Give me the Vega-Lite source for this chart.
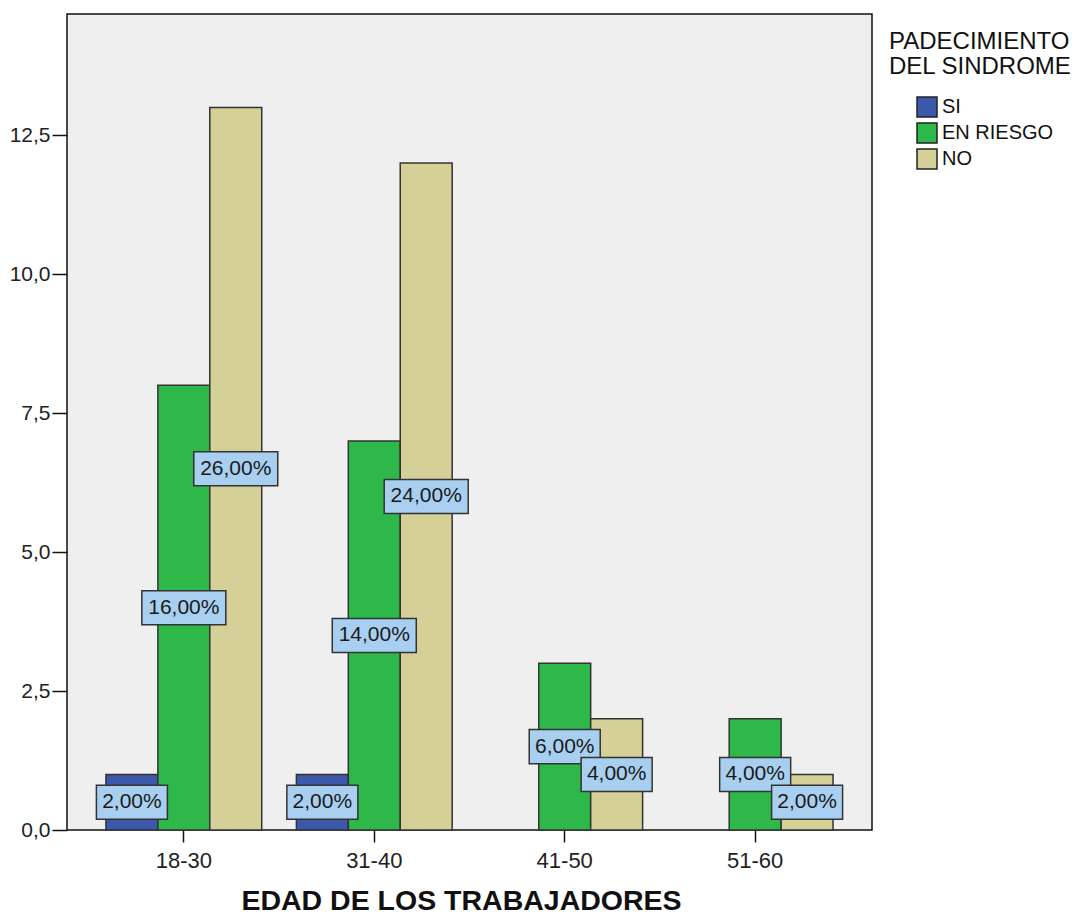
{
  "$schema": "https://vega.github.io/schema/vega-lite/v6.json",
  "autosize": {"type": "none"},
  "padding": {"left": 67, "top": 14, "right": 212, "bottom": 85},
  "width": 805,
  "height": 816,
  "background": "white",
  "config": {
    "font": "Liberation Sans",
    "view": {"fill": "#efefef", "stroke": "#111", "strokeWidth": 1.5},
    "axis": {
      "domainColor": "#111",
      "domainWidth": 1.5,
      "tickColor": "#111",
      "tickWidth": 1.5,
      "labelColor": "#222",
      "labelFont": "Liberation Sans",
      "labelFontSize": 21,
      "grid": false
    }
  },
  "data": {
    "values": [
      {"age": "18-30", "status": "SI", "count": 1, "label": "2,00%"},
      {"age": "18-30", "status": "EN RIESGO", "count": 8, "label": "16,00%"},
      {"age": "18-30", "status": "NO", "count": 13, "label": "26,00%"},
      {"age": "31-40", "status": "SI", "count": 1, "label": "2,00%"},
      {"age": "31-40", "status": "EN RIESGO", "count": 7, "label": "14,00%"},
      {"age": "31-40", "status": "NO", "count": 12, "label": "24,00%"},
      {"age": "41-50", "status": "EN RIESGO", "count": 3, "label": "6,00%"},
      {"age": "41-50", "status": "NO", "count": 2, "label": "4,00%"},
      {"age": "51-60", "status": "EN RIESGO", "count": 2, "label": "4,00%"},
      {"age": "51-60", "status": "NO", "count": 1, "label": "2,00%"}
    ]
  },
  "encoding": {
    "x": {
      "field": "age",
      "type": "nominal",
      "sort": ["18-30", "31-40", "41-50", "51-60"],
      "scale": {"paddingInner": 0.182, "paddingOuter": 0.2045},
      "axis": {
        "title": "EDAD DE LOS TRABAJADORES",
        "titleFont": "Liberation Sans",
        "titleFontSize": 28.5,
        "titleFontWeight": "bold",
        "titleColor": "#111",
        "titlePadding": 15,
        "titleX": 394,
        "labelAngle": 0,
        "labelFontSize": 22,
        "tickSize": 12,
        "labelPadding": 8,
        "domain": false
      }
    },
    "xOffset": {
      "field": "status",
      "type": "nominal",
      "scale": {"domain": ["SI", "EN RIESGO", "NO"], "paddingInner": 0, "paddingOuter": 0}
    }
  },
  "layer": [
    {
      "mark": {"type": "bar", "stroke": "#333", "strokeWidth": 1.5},
      "encoding": {
        "y": {
          "field": "count",
          "type": "quantitative",
          "scale": {"domain": [0, 14.68], "nice": false, "zero": true},
          "axis": {
            "title": null,
            "values": [0, 2.5, 5, 7.5, 10, 12.5],
            "labelExpr": "replace(format(datum.value, '.1f'), '.', ',')",
            "tickSize": 15,
            "labelPadding": 2,
            "domain": false
          }
        },
        "color": {
          "field": "status",
          "type": "nominal",
          "scale": {"domain": ["SI", "EN RIESGO", "NO"], "range": ["#3d57aa", "#2fb84a", "#d4d098"]},
          "legend": {
            "orient": "none",
            "legendX": 822,
            "legendY": 16,
            "padding": 0,
            "title": ["PADECIMIENTO", "DEL SINDROME"],
            "titleFont": "Liberation Sans",
            "titleFontSize": 24,
            "titleFontWeight": "normal",
            "titleColor": "#111",
            "titleLineHeight": 25,
            "titleLimit": 300,
            "titlePadding": 17,
            "labelFont": "Liberation Sans",
            "labelFontSize": 20,
            "labelColor": "#111",
            "labelOffset": 4,
            "symbolType": "square",
            "symbolSize": 400,
            "symbolStrokeColor": "#222",
            "symbolStrokeWidth": 1.5,
            "symbolOpacity": 1,
            "symbolOffset": 27,
            "rowPadding": 0
          }
        }
      }
    },
    {
      "transform": [{"filter": "length(datum.label) == 5"}],
      "mark": {
        "type": "point",
        "shape": "M-1,-0.479H1V0.479H-1Z",
        "size": 5041,
        "filled": true,
        "fill": "#a8cff0",
        "stroke": "#333",
        "strokeWidth": 1.5,
        "opacity": 1
      },
      "encoding": {
        "y": {"field": "count", "type": "quantitative", "scale": {"domain": [0, 29.36], "nice": false}, "axis": null}
      }
    },
    {
      "transform": [{"filter": "length(datum.label) == 6"}],
      "mark": {
        "type": "point",
        "shape": "M-1,-0.405H1V0.405H-1Z",
        "size": 7056,
        "filled": true,
        "fill": "#a8cff0",
        "stroke": "#333",
        "strokeWidth": 1.5,
        "opacity": 1
      },
      "encoding": {
        "y": {"field": "count", "type": "quantitative", "scale": {"domain": [0, 29.36], "nice": false}, "axis": null}
      }
    },
    {
      "mark": {"type": "text", "font": "Liberation Sans", "fontSize": 21, "color": "#1a1a1a", "baseline": "middle", "align": "center"},
      "encoding": {
        "y": {"field": "count", "type": "quantitative", "scale": {"domain": [0, 29.36], "nice": false}, "axis": null},
        "text": {"field": "label"}
      }
    }
  ],
  "resolve": {"scale": {"y": "independent"}}
}
